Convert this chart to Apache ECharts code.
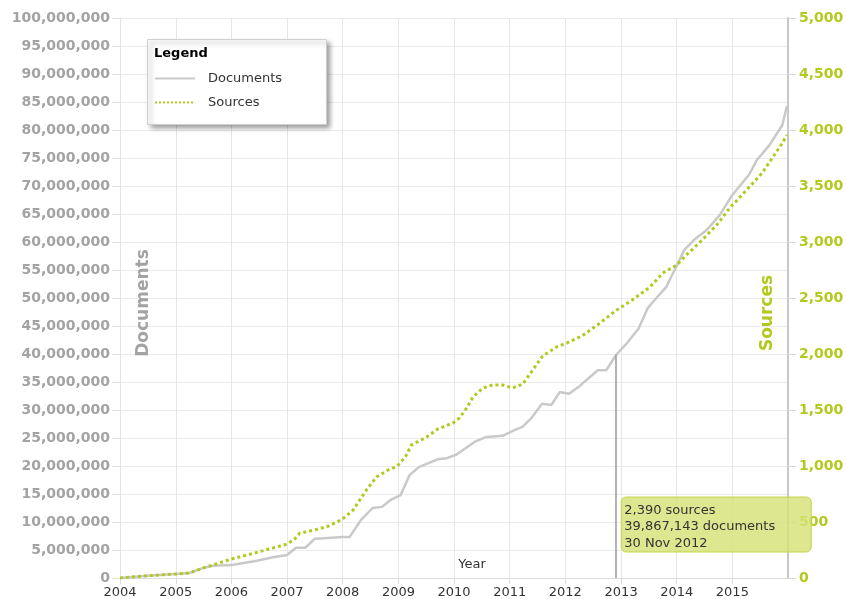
<!DOCTYPE html>
<html>
<head>
<meta charset="utf-8">
<script src="https://cdn.jsdelivr.net/npm/echarts@6/dist/echarts.min.js"></script>
<style>
html,body{margin:0;padding:0;background:#fff;}
#c{width:846px;height:599px;}
</style>
</head>
<body>
<div id="c"></div>
<script>
// Documents (cumulative count)
var docDates = ['2004-01-01','2004-07-01','2005-01-01','2005-04-01','2005-07-01','2005-09-01','2006-01-01','2006-03-01','2006-06-01','2006-10-01','2007-01-01','2007-03-01','2007-05-01','2007-07-01','2007-09-01','2008-01-01','2008-02-15','2008-05-01','2008-07-15','2008-09-15','2008-11-15','2009-01-15','2009-03-15','2009-05-15','2009-09-15','2009-11-15','2010-01-15','2010-05-15','2010-08-01','2010-11-15','2011-02-01','2011-03-25','2011-05-25','2011-08-01','2011-10-01','2011-11-25','2012-01-25','2012-04-05','2012-08-01','2012-09-25','2012-11-30','2013-02-10','2013-04-25','2013-06-25','2013-08-20','2013-10-25','2013-12-25','2014-02-20','2014-04-25','2014-07-15','2014-10-10','2015-01-01','2015-04-20','2015-06-10','2015-09-01','2015-11-25','2015-12-25'];
var docValues = [0,400000,700000,900000,1800000,2200000,2300000,2600000,3000000,3700000,4100000,5400000,5400000,7000000,7100000,7300000,7300000,10400000,12500000,12700000,14000000,14800000,18400000,19800000,21200000,21400000,22000000,24300000,25200000,25400000,26400000,27000000,28600000,31100000,30900000,33200000,32900000,34300000,37100000,37100000,39867143,42000000,44500000,48200000,50000000,52000000,55400000,58600000,60400000,62100000,64800000,68400000,72000000,74600000,77300000,80900000,84300000];

// Sources (cumulative count)
var srcDates = ['2004-01-01','2004-07-01','2005-01-01','2005-04-01','2005-07-01','2005-09-01','2006-01-01','2006-06-01','2006-10-01','2007-01-01','2007-02-20','2007-03-25','2007-07-01','2007-10-01','2008-01-01','2008-03-10','2008-06-05','2008-08-10','2008-10-25','2008-12-25','2009-02-15','2009-03-28','2009-07-05','2009-09-15','2009-12-25','2010-02-05','2010-03-25','2010-05-05','2010-07-10','2010-09-10','2010-11-15','2011-01-20','2011-03-28','2011-06-01','2011-08-05','2011-11-05','2012-01-10','2012-04-20','2012-08-15','2012-11-30','2013-03-15','2013-07-10','2013-10-01','2014-01-01','2014-03-05','2014-05-28','2014-09-20','2014-12-15','2015-04-05','2015-07-15','2015-09-20','2015-11-25','2015-12-25'];
var srcValues = [0,20,36,45,90,116,170,223,268,303,348,400,429,464,527,607,786,902,964,1000,1080,1188,1259,1330,1384,1429,1518,1616,1697,1723,1723,1697,1732,1857,1982,2063,2098,2161,2277,2390,2482,2598,2723,2795,2884,2991,3152,3304,3465,3616,3750,3884,3955];

var leftTicks = {min: 0, max: 100000000, interval: 5000000};
var rightTicks = {min: 0, max: 5000, interval: 500};
var xRange = {min: '2004-01-01', max: '2016-01-01'};

var tipDate = '2012-11-30';
var tipSources = 2390;
var tipDocs = 39867143;
var tipLines = ['2,390 sources', '39,867,143 documents', '30 Nov 2012'];

var FONT = 'DejaVu Sans';
var GRAY = '#a3a3a3';
var GREEN = '#b4c91f';

function zip(a, b){ return a.map(function(d,i){ return [d, b[i]]; }); }
function fmt(v){ return Number(v).toLocaleString('en-US'); }

var chart = echarts.init(document.getElementById('c'), null, {renderer:'canvas'});
var option = {
  animation: false,
  textStyle: {fontFamily: FONT},
  grid: {left: 120, right: 58, top: 18, bottom: 21, containLabel: false, outerBoundsMode: 'none'},
  legend: {
    z: 30,
    orient: 'vertical',
    left: 147, top: 72,
    padding: [0, 0, 0, 7],
    itemWidth: 40, itemHeight: 12, itemGap: 11,
    itemStyle: {opacity: 0},
    textStyle: {fontFamily: FONT, fontSize: 13, color: '#333', padding: [0,0,0,8]},
    data: [{name: 'Documents'}, {name: 'Sources'}]
  },
  xAxis: {
    type: 'time',
    min: xRange.min, max: xRange.max,
    name: 'Year', nameLocation: 'middle', nameGap: -20, nameMoveOverlap: false,
    nameTextStyle: {fontFamily: FONT, fontSize: 13, color: '#333', padding: [0,0,0,36]},
    axisLine: {show: true, lineStyle: {color: '#dcdcdc', width: 1}},
    axisTick: {show: true, length: 6, lineStyle: {color: '#dcdcdc'}},
    splitLine: {show: true, lineStyle: {color: '#e6e6e6', width: 1}},
    axisLabel: {fontFamily: FONT, fontSize: 13, color: '#333', margin: 8, showMaxLabel: false,
      formatter: function(v){ return new Date(v).getFullYear() + ''; }},
    minInterval: 365.2 * 864e5, maxInterval: 366 * 864e5
  },
  yAxis: [
    {
      type: 'value', position: 'left',
      min: leftTicks.min, max: leftTicks.max, interval: leftTicks.interval,
      name: 'Documents', nameLocation: 'middle', nameRotate: 90, nameGap: -32, nameMoveOverlap: false,
      nameTextStyle: {fontFamily: FONT, fontSize: 17, fontWeight: 'bold', color: GRAY, padding: [0, 10, 0, 0]},
      axisLine: {show: true, lineStyle: {color: '#e3e3e3'}},
      axisTick: {show: true, length: 8, lineStyle: {color: '#e3e3e3'}},
      splitLine: {show: true, lineStyle: {color: '#ebebeb'}},
      axisLabel: {fontFamily: FONT, fontSize: 14, fontWeight: 'bold', color: GRAY, margin: 10, formatter: fmt}
    },
    {
      type: 'value', position: 'right',
      min: rightTicks.min, max: rightTicks.max, interval: rightTicks.interval,
      name: 'Sources', nameLocation: 'middle', nameRotate: 90, nameGap: -29, nameMoveOverlap: false,
      nameTextStyle: {fontFamily: FONT, fontSize: 17, fontWeight: 'bold', color: GREEN, padding: [0, 30, 0, 0]},
      axisLine: {show: true, lineStyle: {color: '#c8c8c8', width: 2}},
      axisTick: {show: true, length: 8, lineStyle: {color: '#d8d8d8'}},
      splitLine: {show: false},
      axisLabel: {fontFamily: FONT, fontSize: 14, fontWeight: 'bold', color: GREEN, margin: 11, formatter: fmt}
    }
  ],
  series: [
    {
      name: 'Documents', type: 'line', yAxisIndex: 0, symbol: 'none',
      data: zip(docDates, docValues),
      lineStyle: {color: '#c9c9c9', width: 2.5},
      itemStyle: {color: '#c9c9c9'},
      z: 3,
      markLine: {
        silent: true, symbol: 'none', animation: false,
        label: {show: false},
        lineStyle: {color: '#9a9a9a', width: 1.5, type: 'solid'},
        data: [[{coord: [tipDate, tipDocs]}, {coord: [tipDate, 0]}]]
      }
    },
    {
      name: 'Sources', type: 'line', yAxisIndex: 1, symbol: 'none',
      data: zip(srcDates, srcValues),
      lineStyle: {color: GREEN, width: 3, type: 'dotted'},
      itemStyle: {color: GREEN},
      z: 4
    }
  ]
};
chart.setOption(option);

var p = chart.convertToPixel({gridIndex: 0}, [tipDate, tipDocs]);
chart.setOption({
  graphic: [
    {type: 'rect', z: 20, left: 147, top: 39,
      shape: {width: 179, height: 85},
      style: {fill: '#fff', stroke: '#cfcfcf', lineWidth: 1, shadowBlur: 5, shadowOffsetX: 3, shadowOffsetY: 3, shadowColor: 'rgba(0,0,0,0.4)'}},
    {type: 'text', z: 25, left: 154, top: 47,
      style: {text: 'Legend', font: 'bold 13px ' + FONT, fill: '#000'}},
    {type: 'rect', z: 40, x: p[0] + 5, y: 497,
      shape: {width: 190, height: 55, r: 5},
      style: {fill: 'rgba(213,226,120,0.82)', stroke: '#c5d54a', lineWidth: 1}},
    {type: 'text', z: 41, x: p[0] + 8, y: 502,
      style: {text: tipLines.join('\n'), font: '13px ' + FONT, fill: '#333', lineHeight: 16.5}}
  ]
});
</script>
</body>
</html>
